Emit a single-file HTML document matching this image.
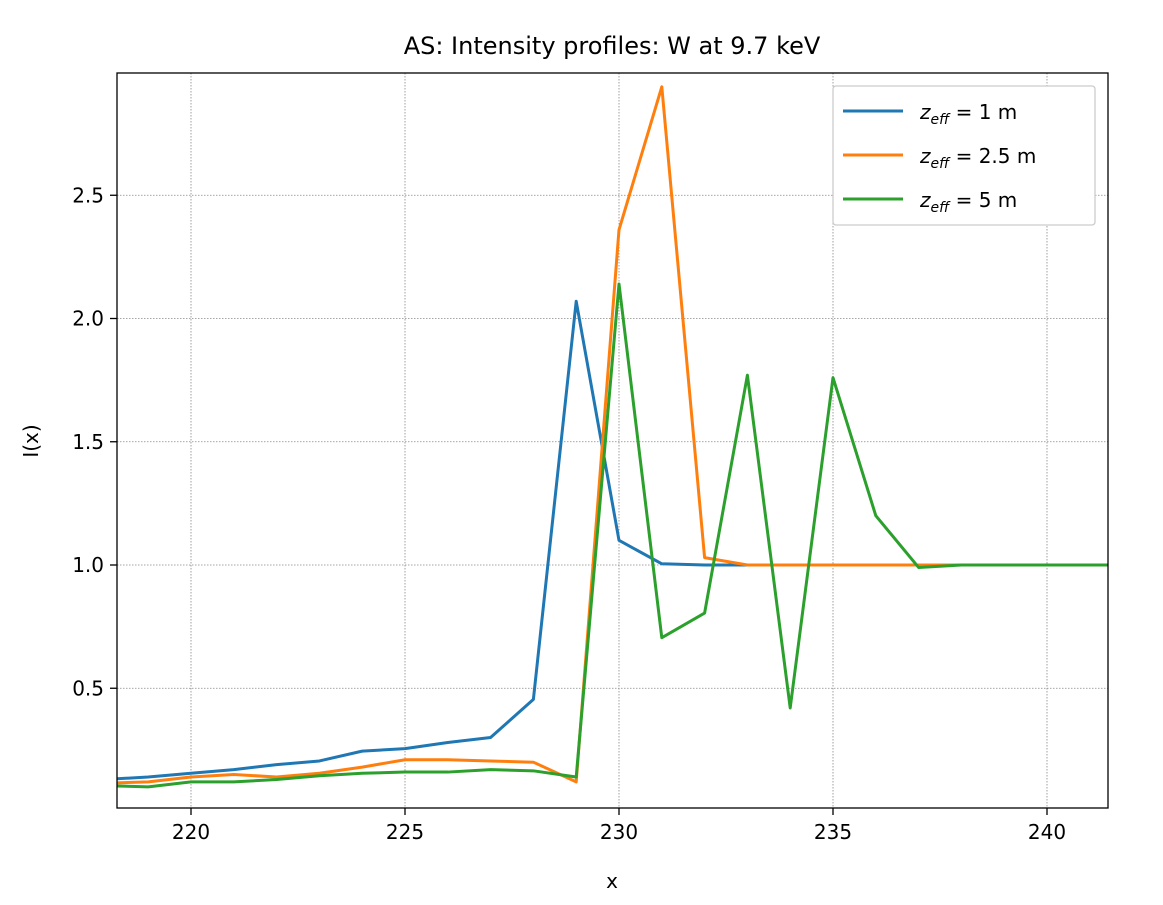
<!DOCTYPE html>
<html><head><meta charset="utf-8"><style>
body{margin:0;background:#fff;font-family:"Liberation Sans","DejaVu Sans",sans-serif}
svg text{font-family:"DejaVu Sans","Liberation Sans",sans-serif;fill:#000}
</style></head><body>
<svg id="chart" width="1163" height="900" xmlns="http://www.w3.org/2000/svg">
<rect width="1163" height="900" fill="#fff"/>
<text x="612" y="54" font-size="24" text-anchor="middle">AS: Intensity profiles: W at 9.7 keV</text>
<g id="grid"></g>
<defs><clipPath id="clip"><rect x="117" y="73" width="991" height="735"/></clipPath></defs>
<g id="lines" clip-path="url(#clip)"></g>
<rect x="117" y="73" width="991" height="735" fill="none" stroke="#000" stroke-width="1.3"/>
<g id="ticks"></g>
<text x="612" y="888" font-size="20" text-anchor="middle">x</text>
<text transform="translate(38,441) rotate(-90)" font-size="20" text-anchor="middle">I(x)</text>
<g>
<rect x="833" y="86" width="262" height="139" fill="#fff" stroke="#ccc" stroke-width="1.3" rx="3"/>
<g><line x1="843" y1="111" x2="903" y2="111" stroke="#1f77b4" stroke-width="3"/><text x="920" y="119" font-size="20"><tspan font-style="italic">z</tspan><tspan font-size="14" dy="5" font-style="italic">eff</tspan><tspan dy="-5"> = 1 m</tspan></text></g>
<g><line x1="843" y1="155" x2="903" y2="155" stroke="#ff7f0e" stroke-width="3"/><text x="920" y="163" font-size="20"><tspan font-style="italic">z</tspan><tspan font-size="14" dy="5" font-style="italic">eff</tspan><tspan dy="-5"> = 2.5 m</tspan></text></g>
<g><line x1="843" y1="199" x2="903" y2="199" stroke="#2ca02c" stroke-width="3"/><text x="920" y="207" font-size="20"><tspan font-style="italic">z</tspan><tspan font-size="14" dy="5" font-style="italic">eff</tspan><tspan dy="-5"> = 5 m</tspan></text></g>
</g>
</svg>
<script>
const xs=[218,219,220,221,222,223,224,225,226,227,228,229,230,231,232,233,234,235,236,237,238,239,240,241,242];
const blue=[0.13,0.14,0.155,0.17,0.19,0.205,0.245,0.255,0.28,0.30,0.455,2.07,1.10,1.005,1.0,1.0,1.0,1.0,1.0,1.0,1.0,1.0,1.0,1.0,1.0];
const orange=[0.115,0.12,0.14,0.15,0.14,0.155,0.18,0.21,0.21,0.205,0.20,0.12,2.36,2.94,1.03,1.0,1.0,1.0,1.0,1.0,1.0,1.0,1.0,1.0,1.0];
const green=[0.105,0.1,0.12,0.12,0.13,0.145,0.155,0.16,0.16,0.17,0.165,0.14,2.14,0.705,0.805,1.77,0.42,1.76,1.2,0.99,1.0,1.0,1.0,1.0,1.0];
const xTicks=[220,225,230,235,240];
const yTicks=[0.5,1.0,1.5,2.0,2.5];
const X=v=>191+(v-220)*42.8;
const Y=v=>565-(v-1)*246.5;
const NS="http://www.w3.org/2000/svg";
function mk(t,a,p){const e=document.createElementNS(NS,t);for(const k in a)e.setAttribute(k,a[k]);p.appendChild(e);return e;}
const grid=document.getElementById('grid'),ticks=document.getElementById('ticks'),lines=document.getElementById('lines');
xTicks.forEach(v=>{
 const g=mk('line',{x1:X(v),x2:X(v),y1:73,y2:808,stroke:'#888','stroke-width':0.8,'stroke-dasharray':'1.5,1.5'},grid);
 
 
 mk('line',{x1:X(v),x2:X(v),y1:808,y2:815,stroke:'#000','stroke-width':1.3},ticks);
 const t=mk('text',{x:X(v),y:839,'font-size':20,'text-anchor':'middle'},ticks);t.textContent=v;
 
 
});
yTicks.forEach(v=>{
 const g=mk('line',{x1:117,x2:1108,y1:Y(v),y2:Y(v),stroke:'#888','stroke-width':0.8,'stroke-dasharray':'1.5,1.5'},grid);
 
 
 mk('line',{x1:110,x2:117,y1:Y(v),y2:Y(v),stroke:'#000','stroke-width':1.3},ticks);
 const t=mk('text',{x:104,y:Y(v)+7,'font-size':20,'text-anchor':'end'},ticks);t.textContent=v.toFixed(1);
 
 
});
[[blue,'#1f77b4','series-1m'],[orange,'#ff7f0e','series-2.5m'],[green,'#2ca02c','series-5m']].forEach(([d,c,n])=>{
 const p=mk('polyline',{points:d.map((v,i)=>X(xs[i])+','+Y(v)).join(' '),fill:'none',stroke:c,'stroke-width':3,'stroke-linejoin':'round'},lines);
 
 
});
</script>
</body></html>
